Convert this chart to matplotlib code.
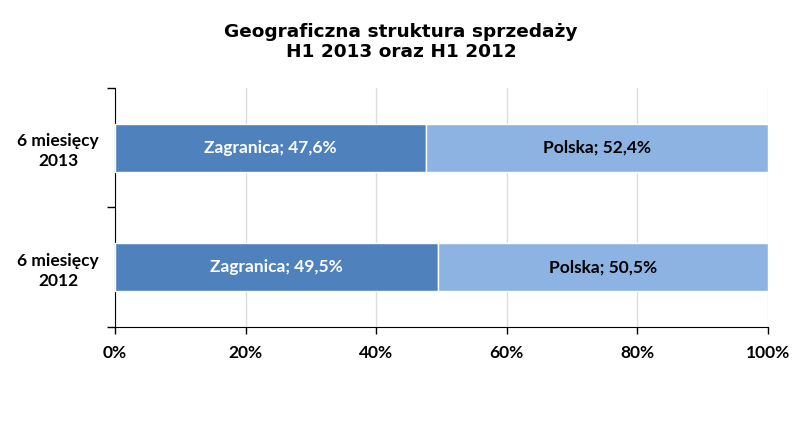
import matplotlib
matplotlib.use("Agg")
import matplotlib.pyplot as plt

# data
categories = ["6 miesięcy\n2012", "6 miesięcy\n2013"]
zagranica = [49.5, 47.6]
polska = [50.5, 52.4]
x_ticks = [0, 20, 40, 60, 80, 100]

dark = "#4F81BD"
light = "#8DB3E2"

fig = plt.figure(figsize=(8.02, 4.33), dpi=100)
ax = fig.add_axes([0.1434, 0.2448, 0.8142, 0.552])

pos = list(range(len(categories)))
ax.barh(pos, zagranica, height=0.4, color=dark, edgecolor="white", linewidth=1, zorder=3)
ax.barh(pos, polska, left=zagranica, height=0.4, color=light, edgecolor="white", linewidth=1, zorder=3)

lab_font = dict(family="Lato", fontweight="bold", fontsize=12.5)
for y, z, p in zip(pos, zagranica, polska):
    ax.text(z / 2, y, "Zagranica; " + f"{z:.1f}".replace(".", ",") + "%",
            ha="center", va="center", color="white", **lab_font)
    ax.text(z + p / 2, y, "Polska; " + f"{p:.1f}".replace(".", ",") + "%",
            ha="center", va="center", color="black", **lab_font)

ax.set_xlim(0, 100)
ax.set_ylim(-0.5, 1.5)
ax.set_xticks(x_ticks)
ax.set_xticklabels([f"{t}%" for t in x_ticks], **lab_font)
ax.set_yticks([-0.5, 0.5, 1.5])
ax.set_yticklabels([])
ax.set_yticks(pos, minor=True)
ax.set_yticklabels(categories, minor=True, ha="center", linespacing=1.3, **lab_font)
ax.tick_params(axis="y", which="minor", length=0, pad=41)
ax.tick_params(axis="y", which="major", length=6, width=1)
ax.tick_params(axis="x", length=5, width=1, pad=8)

ax.grid(axis="x", color="#DDDDDD", linewidth=1, zorder=0)
ax.spines["top"].set_visible(False)
ax.spines["right"].set_visible(False)

fig.text(0.5, 0.946, "Geograficzna struktura sprzedaży\nH1 2013 oraz H1 2012",
         ha="center", va="top", fontsize=13.3, fontweight="bold",
         family="DejaVu Sans", linespacing=1.15)

fig.savefig("out.png", dpi=100)
